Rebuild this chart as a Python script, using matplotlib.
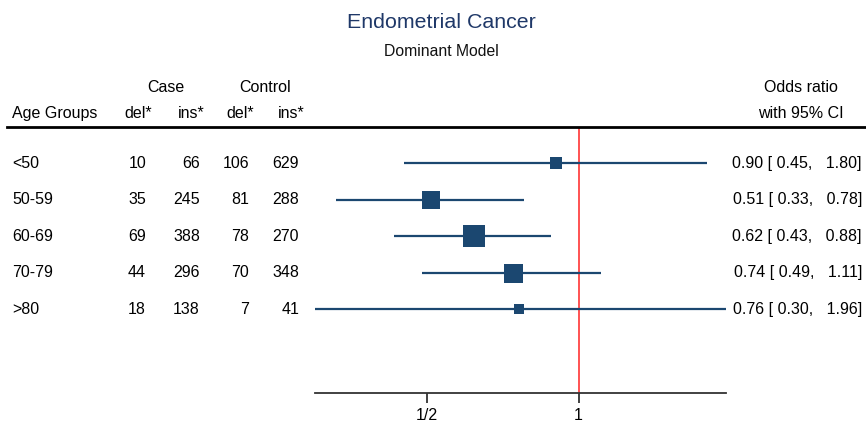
import matplotlib
matplotlib.use("Agg")
import matplotlib.pyplot as plt
import matplotlib.transforms as mtransforms

plt.rcParams['font.family'] = ['Liberation Sans', 'DejaVu Sans']

# ---- data ----
groups = ['<50', '50-59', '60-69', '70-79', '>80']
case_del = [10, 35, 69, 44, 18]
case_ins = [66, 245, 388, 296, 138]
ctrl_del = [106, 81, 78, 70, 7]
ctrl_ins = [629, 288, 270, 348, 41]
odds = [0.90, 0.51, 0.62, 0.74, 0.76]
ci_lo = [0.45, 0.33, 0.43, 0.49, 0.30]
ci_hi = [1.80, 0.78, 0.88, 1.11, 1.96]
tick_vals = [0.5, 1]
tick_labels = ['1/2', '1']

# box sizes (px)
box_px = [12, 18, 22, 19, 10]

W, H = 866, 424
fig = plt.figure(figsize=(W / 100, H / 100), dpi=100)

def fx(x):
    return x / W

def fy(y):
    return 1 - y / H

navy = '#1b4770'
title_c = '#1f3868'
fs = 11.5

ax_left, ax_right, ax_top, ax_bot = 315, 726, 127, 393
ax = fig.add_axes([fx(ax_left), fy(ax_bot), (ax_right - ax_left) / W, (ax_bot - ax_top) / H])
ax.set_xscale('log')
ax.set_xlim(min(ci_lo), max(ci_hi))
n = len(groups)
ax.set_ylim(6.29, -1)

rows = list(range(n))
for i in rows:
    ax.plot([ci_lo[i], ci_hi[i]], [i, i], color=navy, lw=1.6, solid_capstyle='butt', zorder=2)
    ax.plot([odds[i]], [i], marker='s', ms=box_px[i] * 0.72, color=navy, mec=navy, mew=0, zorder=3)

ax.axvline(1, color='#ff3535', lw=1.2, zorder=1)

for s in ['top', 'right', 'left']:
    ax.spines[s].set_visible(False)
ax.spines['bottom'].set_color('#333333')
ax.spines['bottom'].set_linewidth(1.3)
ax.set_yticks([])
ax.xaxis.set_minor_locator(matplotlib.ticker.NullLocator())
ax.set_xticks(tick_vals)
ax.set_xticklabels(tick_labels, fontsize=fs)
ax.tick_params(axis='x', direction='out', length=7, width=1.3, color='#333333', pad=3.5)

# header rule
fig.add_artist(plt.Line2D([fx(7), fx(866)], [fy(127), fy(127)], color='black', lw=2.0,
                          transform=fig.transFigure))

# title
fig.text(fx(441), fy(23), 'Endometrial Cancer', ha='center', va='center', fontsize=15.4, color=title_c)
fig.text(fx(441), fy(51), 'Dominant Model', ha='center', va='center', fontsize=11.3, color='#111111')

# headers
fig.text(fx(166), fy(87), 'Case', ha='center', va='center', fontsize=fs)
fig.text(fx(265), fy(87), 'Control', ha='center', va='center', fontsize=fs)
fig.text(fx(12), fy(113), 'Age Groups', ha='left', va='center', fontsize=fs)
for xr, lab in [(152, 'del*'), (205, 'ins*'), (254, 'del*'), (305, 'ins*')]:
    fig.text(fx(xr), fy(113), lab, ha='right', va='center', fontsize=fs)
fig.text(fx(801), fy(87), 'Odds ratio', ha='center', va='center', fontsize=fs)
fig.text(fx(801), fy(113), 'with 95% CI', ha='center', va='center', fontsize=fs)

# rows
tr = mtransforms.blended_transform_factory(fig.transFigure, ax.transData)
for i in rows:
    fig.text(fx(12), i, groups[i], transform=tr, ha='left', va='center', fontsize=fs)
    for xr, col in [(146, case_del), (200, case_ins), (249, ctrl_del), (299, ctrl_ins)]:
        fig.text(fx(xr), i, str(col[i]), transform=tr, ha='right', va='center', fontsize=fs)
    lab = f"{odds[i]:.2f} [ {ci_lo[i]:.2f},   {ci_hi[i]:.2f}]"
    fig.text(fx(862), i, lab, transform=tr, ha='right', va='center', fontsize=fs)

fig.savefig('out.png', dpi=100)
